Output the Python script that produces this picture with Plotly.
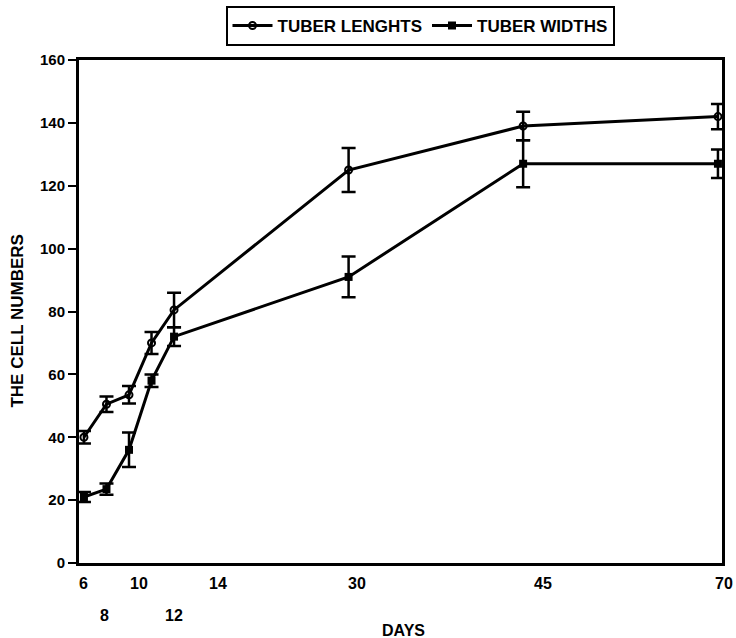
import numpy as np
import plotly.graph_objects as go

# ---- data ----
days = [6, 8, 10, 11, 12, 30, 45, 70]
length_mean = [40, 50.5, 53.5, 70, 80.5, 125, 139, 142]
length_err = [2, 2.5, 2.8, 3.5, 5.5, 7, 4.5, 4]
width_mean = [21, 23.5, 36, 58, 72, 91, 127, 127]
width_err = [1.6, 1.8, 5.5, 2, 3, 6.5, 7.5, 4.5]

tick_days_row1 = [6, 10, 14, 30, 45, 70]
tick_days_row2 = [8, 12]

# axis scale of the original plot (piecewise): days -> axis units
scale_days = [6, 8, 10, 11, 12, 30, 45, 70]
scale_units = [6, 8, 10, 12, 14, 29.5, 45, 62.3]


def to_axis(d):
    return np.interp(d, scale_days, scale_units)


FONT = "Liberation Sans"
BOLD = dict(family=FONT, color="black", weight="bold")

fig = go.Figure()
fig.add_trace(go.Scatter(
    x=to_axis(days), y=length_mean, name="TUBER LENGHTS",
    mode="lines+markers",
    line=dict(color="black", width=3),
    marker=dict(symbol="circle-open", size=7, color="black", line=dict(width=2)),
    error_y=dict(type="data", array=length_err, visible=True,
                 color="black", thickness=2.5, width=7),
))
fig.add_trace(go.Scatter(
    x=to_axis(days), y=width_mean, name="TUBER WIDTHS",
    mode="lines+markers",
    line=dict(color="black", width=3),
    marker=dict(symbol="square", size=8, color="black"),
    error_y=dict(type="data", array=width_err, visible=True,
                 color="black", thickness=2.5, width=7),
))

annotations = []
shift1 = [0, 10, 25, 8, 20, 6]
for d, s in zip(tick_days_row1, shift1):
    annotations.append(dict(x=float(to_axis(d)), y=0, xref="x", yref="paper",
                            text=str(d), showarrow=False, xshift=s, yshift=-20,
                            xanchor="center", yanchor="middle",
                            font=dict(BOLD, size=16)))
shift2 = [-2, 0]
for d, s in zip(tick_days_row2, shift2):
    annotations.append(dict(x=float(to_axis(d)), y=0, xref="x", yref="paper",
                            text=str(d), showarrow=False, xshift=s, yshift=-52,
                            xanchor="center", yanchor="middle",
                            font=dict(BOLD, size=16)))
annotations.append(dict(x=(403 - 79) / 643, y=0, xref="paper", yref="paper", text="DAYS",
                        showarrow=False, yshift=-67, xanchor="center", yanchor="middle",
                        font=dict(BOLD, size=16)))
annotations.append(dict(x=(18 - 79) / 643, y=0.48, xref="paper", yref="paper",
                        text="THE CELL NUMBERS", textangle=-90, showarrow=False,
                        xanchor="center", yanchor="middle",
                        font=dict(BOLD, size=17)))

fig.update_layout(
    width=736, height=638,
    margin=dict(l=79, r=14, t=60, b=75, autoexpand=False),
    paper_bgcolor="white", plot_bgcolor="white",
    font=dict(family=FONT, size=15, color="black"),
    showlegend=True,
    legend=dict(orientation="h", x=(420 - 79) / 643, xanchor="center", y=1.028, yanchor="bottom",
                bordercolor="black", borderwidth=2, bgcolor="white",
                font=dict(BOLD, size=17),
                itemwidth=40, tracegroupgap=0),
    annotations=annotations,
)
fig.update_xaxes(range=[5.56, 62.66], showgrid=False, zeroline=False,
                 showticklabels=False, ticks="",
                 showline=True, linecolor="black", linewidth=3, mirror=True)
fig.update_yaxes(range=[0, 160], dtick=20, showgrid=False, zeroline=False,
                 ticks="outside", ticklen=8, tickwidth=2, tickcolor="black",
                 tickfont=dict(BOLD, size=15),
                 showline=True, linecolor="black", linewidth=3, mirror=True)

fig.write_html("out.html")
